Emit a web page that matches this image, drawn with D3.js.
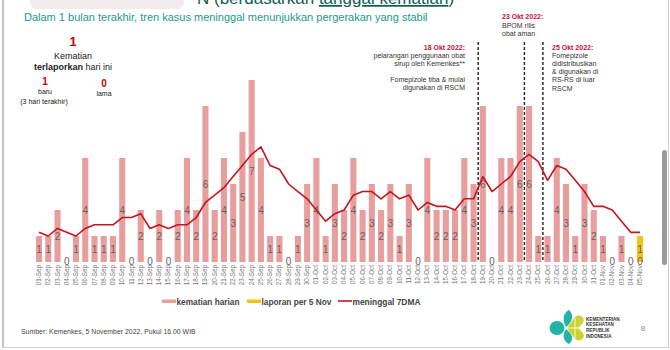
<!DOCTYPE html>
<html><head><meta charset="utf-8">
<script src="https://cdn.jsdelivr.net/npm/d3@7/dist/d3.min.js"></script>
<style>body{margin:0;background:#fff}svg{display:block;font-family:"Liberation Sans",Arial,sans-serif}</style>
</head><body><svg id="c" width="670" height="350"></svg>
<script>
const dates = ["01-Sep","02-Sep","03-Sep","04-Sep","05-Sep","06-Sep","07-Sep","08-Sep","09-Sep","10-Sep",
"11-Sep","12-Sep","13-Sep","14-Sep","15-Sep","16-Sep","17-Sep","18-Sep","19-Sep","20-Sep",
"21-Sep","22-Sep","23-Sep","24-Sep","25-Sep","26-Sep","27-Sep","28-Sep","29-Sep","30-Sep",
"01-Oct","02-Oct","03-Oct","04-Oct","05-Oct","06-Oct","07-Oct","08-Oct","09-Oct","10-Oct",
"11-Oct","12-Oct","13-Oct","14-Oct","15-Oct","16-Oct","17-Oct","18-Oct","19-Oct","20-Oct",
"21-Oct","22-Oct","23-Oct","24-Oct","25-Oct","26-Oct","27-Oct","28-Oct","29-Oct","30-Oct","31-Oct",
"01-Nov","02-Nov","03-Nov","04-Nov","05-Nov"];
const kematianHarian = [1,1,2,0,1,4,1,1,1,4, 0,2,0,2,0,2,4,2,6,2, 4,3,5,7,4,1,1,0,1,3,
  4,1,3,2,4,2,3,2,3,1, 3,0,4,2,2,2,4,3,6,0, 4,4,6,6,1,1,4,3,1,3,2,
  1,0,1,0,0];
const laporanPer5Nov = [0,0,0,0,0,0,0,0,0,0, 0,0,0,0,0,0,0,0,0,0, 0,0,0,0,0,0,0,0,0,0,
  0,0,0,0,0,0,0,0,0,0, 0,0,0,0,0,0,0,0,0,0, 0,0,0,0,0,0,0,0,0,0,0,
  0,0,0,0,1];
const meninggal7DMA = [1.14,1.0,1.29,1.14,1.0,1.29,1.43,1.43,1.43,1.71, 1.71,1.86,1.29,1.43,1.29,1.43,1.43,1.71,2.29,2.57,
  2.86,3.29,3.71,4.14,4.43,3.71,3.57,3.0,2.71,2.43,
  2.0,1.57,1.86,2.0,2.57,2.71,2.71,2.43,2.71,2.43, 2.57,2.0,2.29,2.14,2.14,2.0,2.43,2.43,3.29,2.71,
  3.0,3.29,3.86,4.14,3.86,3.14,3.71,3.57,3.14,2.71,2.14,
  2.14,2.0,1.57,1.14,1.14];
const eventDates = ["18-Oct","23-Oct","25-Oct"];
const legendItems = ["kematian harian","laporan per 5 Nov","meninggal 7DMA"];

const C = {pink:"#e99e9e", yellow:"#f6c21a", red:"#c4161c", teal:"#1a9b8c", dark:"#333"};
const svg = d3.select("#c");

// frame
svg.append("line").attr("x1",3).attr("x2",3).attr("y1",0).attr("y2",348).attr("stroke","#b0b0b0").attr("stroke-width",1.5);
svg.append("line").attr("x1",668.5).attr("x2",668.5).attr("y1",0).attr("y2",348).attr("stroke","#d0d0d0");
svg.append("line").attr("x1",3).attr("x2",669).attr("y1",347.5).attr("y2",347.5).attr("stroke","#cfcfcf");
svg.append("rect").attr("x",662).attr("y",150).attr("width",5).attr("height",115).attr("rx",2.5).attr("fill","#9a9a9a");

// cut title
svg.append("rect").attr("x",30).attr("y",-12).attr("width",154).attr("height",21).attr("rx",7).attr("fill","#f3eced");
const tt = svg.append("text").attr("x",197).attr("y",4).attr("font-size",17).attr("fill","#0e5e50");
tt.append("tspan").text("N (berdasarkan ");
tt.append("tspan").attr("text-decoration","underline").text("tanggal kematian");
tt.append("tspan").text(")");

function fit(sel, w){ const l = sel.node().getComputedTextLength(); sel.attr("font-size", parseFloat(sel.attr("font-size"))*w/l); return sel; }

const sub = svg.append("text").attr("x",24).attr("y",20.5).attr("font-size",12).attr("fill",C.teal)
  .text("Dalam 1 bulan terakhir, tren kasus meninggal menunjukkan pergerakan yang stabil");
fit(sub, 404);

// left info block
const info = svg.append("g").attr("text-anchor","middle");
info.append("text").attr("x",73).attr("y",46).attr("font-size",13).attr("font-weight","bold").attr("fill","#c00").text("1");
info.append("text").attr("x",73).attr("y",59).attr("font-size",9).attr("fill","#222").text("Kematian");
const t2 = info.append("text").attr("x",73).attr("y",70).attr("font-size",9).attr("fill","#222");
t2.append("tspan").attr("font-weight","bold").text("terlaporkan");
t2.append("tspan").text(" hari ini");
info.append("text").attr("x",45).attr("y",85).attr("font-size",10).attr("font-weight","bold").attr("fill","#c00").text("1");
info.append("text").attr("x",45).attr("y",94).attr("font-size",7).attr("fill","#222").text("baru");
info.append("text").attr("x",44).attr("y",104).attr("font-size",7).attr("fill","#222").text("(3 hari terakhir)");
info.append("text").attr("x",104).attr("y",87).attr("font-size",10).attr("font-weight","bold").attr("fill","#c00").text("0");
info.append("text").attr("x",104).attr("y",96).attr("font-size",7).attr("fill","#222").text("lama");

// scales
const x = d3.scaleBand().domain(dates).range([34.4, 644.6]).padding(0);
const bw = x.bandwidth()*0.66;
const cx = d => x(d) + x.bandwidth()/2;
const y = d3.scaleLinear().domain([0,8]).range([262,54]);

// bars
const g = svg.append("g");
g.selectAll("rect.k").data(dates).join("rect").attr("class","k")
  .attr("x", d=>cx(d)-bw/2).attr("width",bw)
  .attr("y",(d,i)=>y(kematianHarian[i])).attr("height",(d,i)=>y(0)-y(kematianHarian[i]))
  .attr("fill",C.pink);
g.selectAll("rect.l").data(dates).join("rect").attr("class","l")
  .attr("x", d=>cx(d)-bw/2).attr("width",bw)
  .attr("y",(d,i)=>y(kematianHarian[i]+laporanPer5Nov[i])).attr("height",(d,i)=>y(0)-y(laporanPer5Nov[i]))
  .attr("fill",C.yellow);

// event dashed lines
eventDates.forEach(d=>{
  const xx = cx(d) + x.step()/2;
  svg.append("line").attr("x1",xx).attr("x2",xx).attr("y1",42).attr("y2",262)
    .attr("stroke","#222").attr("stroke-width",1.4).attr("stroke-dasharray","3,2");
});

// bar labels
g.selectAll("text.kl").data(dates).join("text").attr("class","kl")
  .attr("x",d=>cx(d)).attr("y",(d,i)=>kematianHarian[i]===0? y(0)-0.5 : y(kematianHarian[i]/2))
  .attr("text-anchor","middle").attr("dominant-baseline","central")
  .attr("font-size",10).attr("fill","#676262").text((d,i)=>kematianHarian[i]);
g.selectAll("text.ll").data(dates.filter((d,i)=>laporanPer5Nov[i]>0)).join("text").attr("class","ll")
  .attr("x",d=>cx(d)).attr("y",d=>{const i=dates.indexOf(d);return y(kematianHarian[i]+laporanPer5Nov[i]/2);})
  .attr("text-anchor","middle").attr("dominant-baseline","central")
  .attr("font-size",10).attr("fill","#676262").text(d=>laporanPer5Nov[dates.indexOf(d)]);

// 7DMA line
const line = d3.line().x((d,i)=>cx(dates[i])).y(d=>y(d));
svg.append("path").datum(meninggal7DMA).attr("d",line).attr("fill","none")
  .attr("stroke",C.red).attr("stroke-width",1.6).attr("stroke-linejoin","round");

// x axis
const ax = svg.append("g").attr("transform","translate(0,265)").call(d3.axisBottom(x).tickSize(0).tickPadding(0));
ax.select(".domain").remove();
ax.selectAll("text").attr("transform","rotate(-90)").attr("text-anchor","end")
  .attr("x",0).attr("y",0).attr("dy","0.32em").attr("font-size",6.3).attr("fill","#777")
  .attr("font-family","Liberation Sans, Arial, sans-serif");

// annotations
function block(xp, y0, lh, anchor, lines){
  const t = svg.append("g").attr("text-anchor",anchor).attr("font-size",7);
  lines.forEach((l,i)=>{ if(!l) return;
    const e = t.append("text").attr("x",xp).attr("y",y0+i*lh).text(l.t);
    if(l.b){ e.attr("font-weight","bold").attr("fill","#c8102e"); } else e.attr("fill","#333");
  });
}
block(465, 49.5, 8, "end", [{t:"18 Okt 2022:",b:1},{t:"pelarangan penggunaan obat"},{t:"sirup oleh Kemenkes**"},null,{t:"Fomepizole tiba & mulai"},{t:"digunakan di RSCM"}]);
block(502, 19, 8.5, "start", [{t:"23 Okt 2022:",b:1},{t:"BPOM rilis"},{t:"obat aman"}]);
block(552, 49.5, 8.2, "start", [{t:"25 Okt 2022:",b:1},{t:"Fomepizole"},{t:"didistribusikan"},{t:"& digunakan di"},{t:"RS-RS di luar"},{t:"RSCM"}]);

// legend
const lg = svg.append("g").attr("font-size",9).attr("font-weight","bold").attr("fill","#444");
const lx = [162,247,338], lw=[63,70,68];
legendItems.forEach((s,i)=>{
  if(i<2) lg.append("rect").attr("x",lx[i]).attr("y",299.5).attr("width",14).attr("height",3.5).attr("fill",i? C.yellow:C.pink);
  else lg.append("line").attr("x1",lx[i]).attr("x2",lx[i]+14).attr("y1",301).attr("y2",301).attr("stroke",C.red).attr("stroke-width",1.6);
  const t = lg.append("text").attr("x",lx[i]+14.5).attr("y",304.5).attr("font-size",9).text(s);
  fit(t, lw[i]);
});

// source
const src = svg.append("text").attr("x",21).attr("y",334).attr("font-size",7.5).attr("fill","#444")
  .text("Sumber: Kemenkes, 5 November 2022, Pukul 16.00 WIB");
fit(src, 175);
svg.append("text").attr("x",643).attr("y",331).attr("font-size",8).attr("fill","#888").attr("text-anchor","middle").text("8");

// logo
const lo = svg.append("g");
lo.append("ellipse").attr("cx",557).attr("cy",328).attr("rx",7.5).attr("ry",7).attr("fill","#22b3aa");
lo.append("path").attr("d","M566,327 C562,320 563,313 569,310 C574,314 573,322 566,327Z").attr("fill","#22b3aa");
lo.append("path").attr("d","M566,329 C562,335 563,341 569,344 C574,340 573,334 566,329Z").attr("fill","#22b3aa");
lo.append("path").attr("d","M567,328 L575,317 C580,313 586,318 583,323 L578,328 L583,333 C586,338 580,343 575,339 Z").attr("fill","#c8d530");
lo.append("path").attr("d","M567,328 L583,328 M575,318 L575,339").attr("stroke","#fff").attr("stroke-width",0.8);
const lt = lo.append("g").attr("font-size",4.6).attr("font-weight","bold").attr("fill","#333");
["KEMENTERIAN","KESEHATAN","REPUBLIK","INDONESIA"].forEach((s,i)=>lt.append("text").attr("x",586).attr("y",320.5+i*5.7).text(s));
</script></body></html>
